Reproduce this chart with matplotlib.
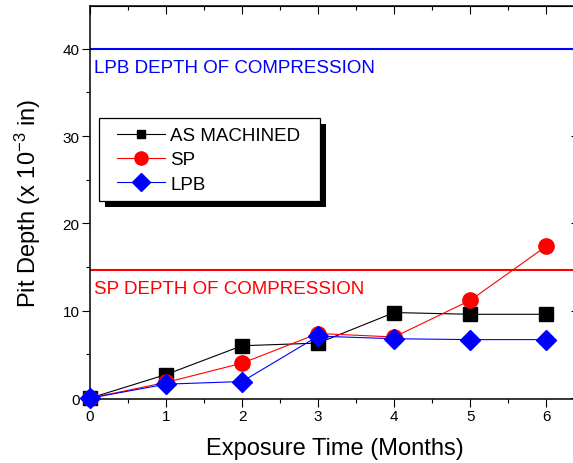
import matplotlib
matplotlib.use("Agg")
import matplotlib.pyplot as plt
from matplotlib.patches import Rectangle
from matplotlib.ticker import MultipleLocator

plt.rcParams['font.family'] = ['Liberation Sans', 'DejaVu Sans']
plt.rcParams['mathtext.fontset'] = 'custom'
plt.rcParams['mathtext.rm'] = 'Liberation Sans'
plt.rcParams['mathtext.it'] = 'Liberation Sans'

months = [0, 1, 2, 3, 4, 5, 6]
as_machined = [0, 2.7, 6.0, 6.3, 9.8, 9.6, 9.6]
sp = [0, 1.8, 4.0, 7.4, 7.0, 11.2, 17.4]
lpb = [0, 1.6, 1.9, 7.1, 6.8, 6.7, 6.7]

sp_depth = 14.7
lpb_depth = 40

W, H = 573, 464
fig = plt.figure(figsize=(W / 100, H / 100), dpi=100)
ax = fig.add_axes([90 / W, 1 - 400 / H, (579 - 90) / W, 393 / H])

ax.axhline(lpb_depth, color='#0000ff', lw=1.5, zorder=1)
ax.axhline(sp_depth, color='#ff0000', lw=1.5, zorder=1)
ax.text(0.05, 37.9, 'LPB DEPTH OF COMPRESSION', color='#0000ff', fontsize=13.5, va='center')
ax.text(0.05, 12.6, 'SP DEPTH OF COMPRESSION', color='#ff0000', fontsize=13.5, va='center')

ax.plot(months, as_machined, color='black', lw=0.8, marker='s', ms=10,
        label='AS MACHINED', clip_on=False, zorder=3)
ax.plot(months, sp, color='#ff0000', lw=0.8, marker='o', ms=11,
        label='SP', clip_on=False, zorder=3)
ax.plot(months, lpb, color='#0000ff', lw=0.8, marker='D', ms=10,
        label='LPB', clip_on=False, zorder=4)

ax.set_xlim(0, 6.43)
ax.set_ylim(-0.1, 44.9)
ax.xaxis.set_major_locator(MultipleLocator(1))
ax.xaxis.set_minor_locator(MultipleLocator(0.5))
ax.yaxis.set_major_locator(MultipleLocator(10))
ax.yaxis.set_minor_locator(MultipleLocator(5))

for s in ax.spines.values():
    s.set_linewidth(1.1)
ax.tick_params(axis='both', which='major', direction='out', length=5.5, width=0.8,
               labelsize=11, pad=2)
ax.tick_params(axis='both', which='minor', direction='out', length=3, width=0.8)

top = ax.secondary_xaxis('top')
top.xaxis.set_major_locator(MultipleLocator(1))
top.xaxis.set_minor_locator(MultipleLocator(0.5))
top.tick_params(which='major', direction='in', length=5.5, width=0.8, labeltop=False)
top.tick_params(which='minor', direction='in', length=3, width=0.8)
right = ax.secondary_yaxis('right')
right.yaxis.set_major_locator(MultipleLocator(10))
right.yaxis.set_minor_locator(MultipleLocator(5))
right.tick_params(which='major', direction='in', length=5.5, width=0.8, labelright=False)
right.tick_params(which='minor', direction='in', length=3, width=0.8)

ax.set_xlabel('Exposure Time (Months)', fontsize=17, labelpad=10)
ax.set_ylabel('Pit Depth (x 10$^{-3}$ in)', fontsize=17, labelpad=14)

# legend box drawn by hand (white frame + black drop shadow)
box_x0, box_y0, box_x1, box_y1 = 99, 119, 320, 202
ax.add_artist(Rectangle((box_x0 / W + 6 / W, 1 - (box_y1 + 6) / H),
                        (box_x1 - box_x0) / W, (box_y1 - box_y0) / H,
                        transform=fig.transFigure, facecolor='black',
                        edgecolor='none', zorder=5))
ax.add_artist(Rectangle((box_x0 / W, 1 - box_y1 / H),
                        (box_x1 - box_x0) / W, (box_y1 - box_y0) / H,
                        transform=fig.transFigure, facecolor='white',
                        edgecolor='black', lw=0.9, zorder=5.5))

leg = ax.legend(loc='upper left', bbox_to_anchor=(117 / W, 1 - 128 / H),
                bbox_transform=fig.transFigure, borderaxespad=0, borderpad=0,
                fontsize=13.5, frameon=False, handlelength=2.56,
                handletextpad=0.27, labelspacing=0.38)
leg.set_zorder(6)
for h, ms in zip(leg.legend_handles, [6, 9.5, 9.5]):
    h.set_markersize(ms)

fig.savefig('out.png', dpi=100)
